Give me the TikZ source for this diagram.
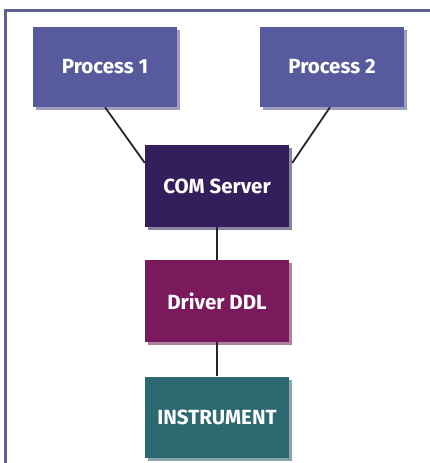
\documentclass[tikz,border=0pt]{standalone}
\usepackage{fontspec}
\setmainfont{Fira Sans}
\usetikzlibrary{calc,shadows}
\definecolor{frame}{RGB}{96,96,146}
\definecolor{proc}{RGB}{88,90,158}
\definecolor{srv}{RGB}{52,30,92}
\definecolor{drv}{RGB}{122,26,92}
\definecolor{inst}{RGB}{44,104,112}
\tikzset{
  blk/.style={minimum width=144pt, minimum height=80pt, inner sep=0pt,
              text=white, font=\fontsize{20.5}{23}\selectfont\bfseries,
              drop shadow={shadow xshift=3pt, shadow yshift=-3pt, opacity=1, fill=#1!55!white!85!gray}},
  link/.style={line width=1.8pt, black!85},
}

\begin{document}
\begin{tikzpicture}[x=1pt, y=-1pt]
  \useasboundingbox (0,0) rectangle (430,463);
  % outer frame, only top and left edge in view
  \draw[frame, line width=3pt] (5,463) -- (5,10) -- (430,10);
  \node[blk=proc, fill=proc] (p1) at (105,67) {Process 1};
  \node[blk=proc, fill=proc] (p2) at (332,67) {Process 2};
  \node[blk=srv, fill=srv, minimum height=82pt] (com) at (217,186) {COM Server};
  \node[blk=drv, fill=drv, minimum height=82pt] (ddl) at (217,301) {Driver DDL};
  \node[blk=inst, fill=inst, minimum height=81pt] (ins) at (217,417) {INSTRUMENT};
  \draw[link] (p1.south) -- ($(com.north west)!0.22!(com.south west)$);
  \draw[link] ([xshift=-2pt]p2.south) -- ($(com.north east)!0.22!(com.south east)+(3pt,0)$);
  \draw[link] (com.south) -- (ddl.north);
  \draw[link] (ddl.south) -- (ins.north);
\end{tikzpicture}
\end{document}
